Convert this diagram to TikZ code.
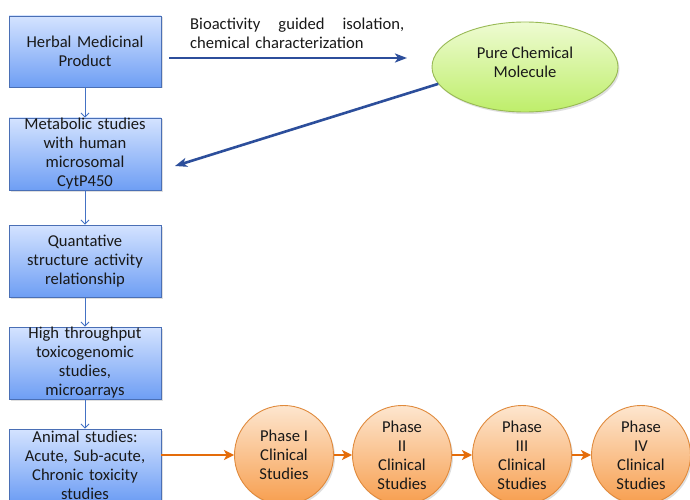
\documentclass[tikz,border=0pt]{standalone}
\usepackage{fontspec}
\setmainfont{Carlito}
\usetikzlibrary{arrows.meta,shadows,shapes.geometric}
\definecolor{boxtop}{HTML}{D4E3FF}
\definecolor{boxbot}{HTML}{6E9EF4}
\definecolor{boxline}{HTML}{4A6FB5}
\definecolor{elltop}{HTML}{EEFBD2}
\definecolor{ellbot}{HTML}{BEEE6A}
\definecolor{ellline}{HTML}{98B954}
\definecolor{circtop}{HTML}{FDE6CF}
\definecolor{circbot}{HTML}{F79E4E}
\definecolor{circline}{HTML}{E08A3C}
\definecolor{darkarrow}{HTML}{2C4E9B}
\definecolor{thinarrow}{HTML}{4472C4}
\definecolor{orangearrow}{HTML}{E46C0A}
\tikzset{
  txt/.style={font=\fontsize{16.6}{19}\selectfont, text=black!90},
  stepbox/.style={txt, draw=boxline, line width=0.9pt, top color=boxtop, bottom color=boxbot,
    minimum width=152pt, minimum height=71pt, inner sep=0pt, text width=152pt, align=center,
    drop shadow={opacity=0.25, shadow xshift=1.5pt, shadow yshift=-1.5pt}},
  molecule/.style={ellipse, draw=ellline, line width=0.9pt, top color=elltop, bottom color=ellbot,
    minimum width=186pt, minimum height=90pt, inner sep=0pt,
    drop shadow={opacity=0.25, shadow xshift=1.5pt, shadow yshift=-2pt}},
  phase/.style={txt, circle, draw=circline, line width=0.9pt, top color=circtop, bottom color=circbot,
    minimum size=99pt, inner sep=0pt, align=center,
    drop shadow={opacity=0.25, shadow xshift=1.5pt, shadow yshift=-2pt}},
  thinarr/.style={draw=thinarrow, line width=0.8pt, -{Straight Barb[length=4pt,width=8pt]}},
  bluearr/.style={draw=darkarrow, line width=2.6pt, -{Stealth[length=12pt,width=9pt,inset=3pt]}},
  orarr/.style={draw=orangearrow, line width=2.6pt, -{Stealth[length=10pt,width=10pt,inset=2.5pt]}},
}
\begin{document}
\begin{tikzpicture}[x=1pt,y=-1pt]
\clip (0,0) rectangle (690,500);
\fill[white] (0,0) rectangle (690,500);

\node[stepbox] (b1) at (85,51.5) {Herbal Medicinal\\Product};
\node[stepbox, minimum height=72pt] (b2) at (85,154) {Metabolic studies\\with human\\microsomal\\CytP450};
\node[stepbox, minimum height=72pt] (b3) at (85,261) {Quantative\\structure activity\\relationship};
\node[stepbox, minimum height=72pt] (b4) at (85,363) {High throughput\\toxicogenomic\\studies,\\microarrays};
\node[stepbox, minimum height=72pt] (b5) at (85,465) {Animal studies:\\Acute, Sub-acute,\\Chronic toxicity\\studies};

\node[molecule, label={[txt, align=center, yshift=5pt]center:Pure Chemical\\Molecule}] (m) at (525,67) {};

\node[phase] (p1) at (284,455) {Phase I\\Clinical\\Studies};
\node[phase] (p2) at (402,455) {Phase\\II\\Clinical\\Studies};
\node[phase] (p3) at (522,455) {Phase\\III\\Clinical\\Studies};
\node[phase] (p4) at (641,455) {Phase\\IV\\Clinical\\Studies};

\node[txt, text width=214pt, align=left, inner sep=0pt, anchor=north west] (lbl) at (190,18)
  {\hbox to 214pt{Bioactivity\hfill guided\hfill isolation,}\\chemical characterization};

\coordinate (a1s) at (169,58);
\coordinate (a1e) at (407,58);
\draw[bluearr] (a1s) -- (a1e);
\coordinate (a2e) at (175,166);
\draw[bluearr] (m.191) -- (a2e);

\draw[thinarr] (b1) -- (b2);
\draw[thinarr] (b2) -- (b3);
\draw[thinarr] (b3) -- (b4);
\draw[thinarr] (b4) -- (b5);

\draw[orarr] (b5.east |- p1) -- (p1);
\draw[orarr] (p1) -- (p2);
\draw[orarr] (p2) -- (p3);
\draw[orarr] (p3) -- (p4);
\end{tikzpicture}
\end{document}
